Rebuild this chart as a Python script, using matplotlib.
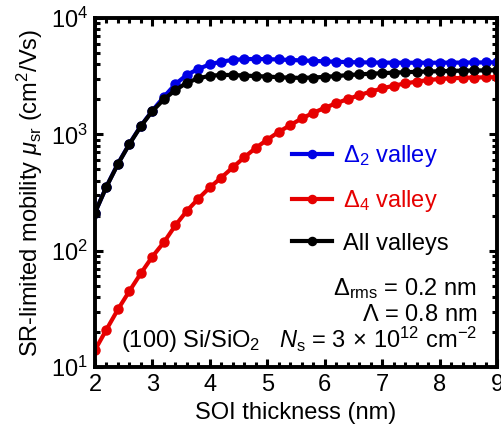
import numpy as np
import matplotlib
matplotlib.use('agg')
import matplotlib.pyplot as plt
from matplotlib.ticker import LogLocator, MultipleLocator, NullFormatter

plt.rcParams['font.family'] = ['Liberation Sans', 'DejaVu Sans']
plt.rcParams['mathtext.fontset'] = 'custom'
plt.rcParams['mathtext.rm'] = 'Liberation Sans'
plt.rcParams['mathtext.it'] = 'Liberation Sans:italic'
plt.rcParams['mathtext.default'] = 'regular'

# SOI thickness (nm), 0.2 nm steps
t_soi = np.round(np.arange(2.0, 9.0001, 0.2), 1)

mu_d2 = [212, 356, 560, 830, 1185, 1600, 2100, 2700, 3250, 3650,
         4000, 4220, 4360, 4430, 4450, 4430, 4400, 4360, 4320, 4280,
         4240, 4210, 4180, 4160, 4150, 4140, 4130, 4130, 4130, 4130,
         4130, 4140, 4140, 4150, 4150, 4160]
mu_d4 = [14.0, 21.0, 31.3, 45, 64, 89, 118, 165, 220, 280,
         350, 425, 520, 635, 765, 900, 1050, 1200, 1370, 1530,
         1690, 1850, 2010, 2170, 2330, 2480, 2620, 2740, 2840, 2930,
         2990, 3030, 3060, 3080, 3090, 3100]
mu_all = [212, 355, 556, 826, 1178, 1585, 2000, 2400, 2780, 3030,
          3190, 3240, 3240, 3200, 3170, 3140, 3100, 3070, 3060, 3080,
          3120, 3170, 3230, 3280, 3320, 3360, 3390, 3420, 3450, 3470,
          3490, 3510, 3530, 3540, 3550, 3560]

labels = [r'$\Delta_2$ valley', r'$\Delta_4$ valley', 'All valleys']
colors = ['#0000e6', '#e60000', 'black']
fs = 17

fig = plt.figure(figsize=(5.01, 4.29), dpi=100)
ax = fig.add_axes([0.1896, 0.1445, 0.8024, 0.8135])

for y, c, lab in zip([mu_d2, mu_d4, mu_all], colors, labels):
    ax.plot(t_soi, y, '-o', color=c, lw=3, ms=6.5, label=lab)

ax.set_yscale('log')
ax.set_xlim(2, 9)
ax.set_ylim(10, 1e4)
ax.xaxis.set_major_locator(MultipleLocator(1))
ax.xaxis.set_minor_locator(MultipleLocator(0.2))
ax.yaxis.set_major_locator(LogLocator(base=10))
ax.yaxis.set_minor_locator(LogLocator(base=10, subs=np.arange(2, 10)))
ax.yaxis.set_minor_formatter(NullFormatter())

for s in ax.spines.values():
    s.set_linewidth(2.8)
ax.tick_params(which='both', direction='in', top=True, right=True,
               labelsize=fs, width=2.2)
ax.tick_params(which='major', length=6, pad=5)
ax.tick_params(which='minor', length=3.8)

ax.set_xlabel('SOI thickness (nm)', fontsize=fs, labelpad=4)
ax.set_ylabel(r'SR-limited mobility $\mathit{\mu}_{\rm sr}$ (cm$^2$/Vs)',
              fontsize=fs, labelpad=4)

leg = ax.legend(loc='upper left', bbox_to_anchor=(0.437, 0.703), frameon=False,
                fontsize=fs, handlelength=1.7, handletextpad=0.45,
                labelspacing=0.8, markerscale=0.9, numpoints=1,
                labelcolor='linecolor')

ax.text(0.95, 0.226, r'$\Delta_{\rm rms}$ = 0.2 nm', transform=ax.transAxes,
        ha='right', va='center', fontsize=fs)
ax.text(0.95, 0.15, r'$\Lambda$ = 0.8 nm', transform=ax.transAxes,
        ha='right', va='center', fontsize=fs)
ax.text(0.95, 0.08, r'$\mathit{N}_{\rm s}$ = 3$\,\times\,$10$^{12}$ cm$^{-2}$',
        transform=ax.transAxes, ha='right', va='center', fontsize=fs)
ax.text(0.065, 0.075, r'(100) Si/SiO$_2$', transform=ax.transAxes,
        ha='left', va='center', fontsize=fs)

fig.savefig('out.png', dpi=100)
